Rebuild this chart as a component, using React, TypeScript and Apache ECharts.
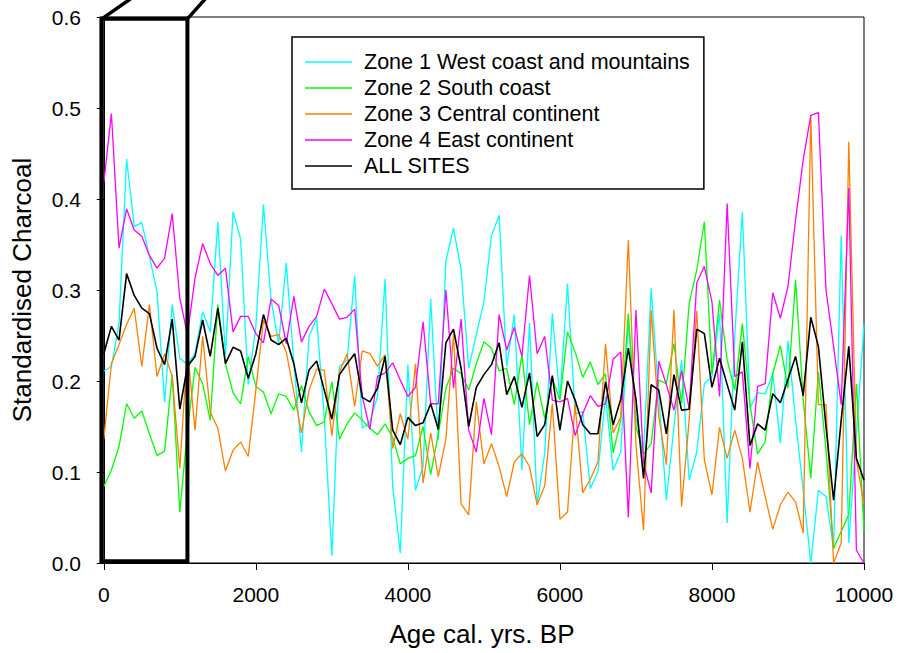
import React, { useEffect, useRef } from "react";
import * as echarts from "echarts";

const AGES = [
  0, 100, 200, 300, 400, 500, 600, 700, 800, 900,
  1000, 1100, 1200, 1300, 1400, 1500, 1600, 1700, 1800, 1900,
  2000, 2100, 2200, 2300, 2400, 2500, 2600, 2700, 2800, 2900,
  3000, 3100, 3200, 3300, 3400, 3500, 3600, 3700, 3800, 3900,
  4000, 4100, 4200, 4300, 4400, 4500, 4600, 4700, 4800, 4900,
  5000, 5100, 5200, 5300, 5400, 5500, 5600, 5700, 5800, 5900,
  6000, 6100, 6200, 6300, 6400, 6500, 6600, 6700, 6800, 6900,
  7000, 7100, 7200, 7300, 7400, 7500, 7600, 7700, 7800, 7900,
  8000, 8100, 8200, 8300, 8400, 8500, 8600, 8700, 8800, 8900,
  9000, 9100, 9200, 9300, 9400, 9500, 9600, 9700, 9800, 9900,
  10000,
];

const ZONE1 = [
  0.211, 0.216, 0.263, 0.444, 0.370, 0.374, 0.337, 0.298, 0.177, 0.284,
  0.225, 0.218, 0.230, 0.276, 0.254, 0.375, 0.227, 0.386, 0.356, 0.196,
  0.260, 0.394, 0.289, 0.241, 0.330, 0.220, 0.122, 0.249, 0.269, 0.160,
  0.008, 0.216, 0.223, 0.316, 0.148, 0.155, 0.183, 0.312, 0.084, 0.011,
  0.218, 0.080, 0.106, 0.290, 0.135, 0.332, 0.368, 0.322, 0.214, 0.251,
  0.287, 0.360, 0.382, 0.216, 0.273, 0.102, 0.264, 0.064, 0.121, 0.274,
  0.181, 0.307, 0.164, 0.166, 0.082, 0.100, 0.183, 0.102, 0.122, 0.265,
  0.160, 0.120, 0.302, 0.183, 0.069, 0.150, 0.223, 0.091, 0.122, 0.197,
  0.205, 0.274, 0.044, 0.250, 0.386, 0.170, 0.187, 0.186, 0.208, 0.132,
  0.244, 0.157, 0.080, 0.000, 0.080, 0.073, 0.016, 0.360, 0.022, 0.142,
  0.262,
];

const ZONE2 = [
  0.084, 0.102, 0.128, 0.175, 0.159, 0.167, 0.142, 0.118, 0.123, 0.207,
  0.056, 0.146, 0.215, 0.197, 0.157, 0.284, 0.219, 0.187, 0.175, 0.227,
  0.194, 0.188, 0.164, 0.186, 0.183, 0.168, 0.195, 0.166, 0.151, 0.155,
  0.199, 0.136, 0.153, 0.165, 0.157, 0.148, 0.141, 0.153, 0.138, 0.109,
  0.115, 0.118, 0.150, 0.097, 0.142, 0.192, 0.214, 0.208, 0.190, 0.219,
  0.243, 0.236, 0.211, 0.214, 0.174, 0.229, 0.152, 0.199, 0.159, 0.203,
  0.179, 0.254, 0.232, 0.204, 0.221, 0.196, 0.208, 0.121, 0.157, 0.274,
  0.150, 0.120, 0.131, 0.201, 0.197, 0.241, 0.175, 0.285, 0.322, 0.375,
  0.208, 0.289, 0.223, 0.190, 0.263, 0.175, 0.120, 0.133, 0.208, 0.239,
  0.192, 0.311, 0.180, 0.093, 0.210, 0.124, 0.016, 0.035, 0.053, 0.197,
  0.035,
];

const ZONE3 = [
  0.136, 0.219, 0.240, 0.262, 0.280, 0.216, 0.284, 0.205, 0.230, 0.205,
  0.104, 0.236, 0.146, 0.249, 0.166, 0.148, 0.101, 0.124, 0.133, 0.117,
  0.190, 0.267, 0.249, 0.251, 0.232, 0.188, 0.143, 0.190, 0.213, 0.212,
  0.140, 0.210, 0.230, 0.172, 0.233, 0.230, 0.216, 0.229, 0.126, 0.164,
  0.136, 0.219, 0.088, 0.143, 0.095, 0.136, 0.252, 0.065, 0.053, 0.177,
  0.109, 0.131, 0.106, 0.073, 0.111, 0.120, 0.106, 0.064, 0.085, 0.175,
  0.048, 0.056, 0.175, 0.077, 0.092, 0.111, 0.241, 0.143, 0.160, 0.355,
  0.130, 0.036, 0.278, 0.161, 0.108, 0.278, 0.062, 0.157, 0.277, 0.113,
  0.075, 0.149, 0.115, 0.146, 0.115, 0.056, 0.111, 0.073, 0.037, 0.064,
  0.078, 0.067, 0.033, 0.492, 0.174, 0.174, 0.000, 0.022, 0.463, 0.113,
  0.064,
];

const ZONE4 = [
  0.418, 0.494, 0.346, 0.389, 0.366, 0.359, 0.338, 0.324, 0.335, 0.384,
  0.291, 0.251, 0.313, 0.351, 0.329, 0.316, 0.324, 0.254, 0.271, 0.271,
  0.252, 0.242, 0.290, 0.283, 0.241, 0.293, 0.243, 0.260, 0.271, 0.301,
  0.285, 0.268, 0.270, 0.279, 0.183, 0.147, 0.205, 0.209, 0.220, 0.201,
  0.183, 0.193, 0.265, 0.175, 0.175, 0.300, 0.192, 0.268, 0.146, 0.122,
  0.181, 0.141, 0.273, 0.234, 0.259, 0.227, 0.316, 0.230, 0.249, 0.179,
  0.177, 0.181, 0.140, 0.164, 0.184, 0.172, 0.175, 0.224, 0.232, 0.050,
  0.278, 0.110, 0.077, 0.222, 0.196, 0.168, 0.211, 0.170, 0.308, 0.326,
  0.287, 0.183, 0.395, 0.205, 0.210, 0.104, 0.194, 0.197, 0.297, 0.269,
  0.304, 0.377, 0.443, 0.492, 0.495, 0.300, 0.238, 0.174, 0.412, 0.014,
  0.000,
];

const ALL_SITES = [
  0.230, 0.260, 0.245, 0.318, 0.294, 0.280, 0.274, 0.236, 0.218, 0.268,
  0.169, 0.216, 0.227, 0.267, 0.227, 0.280, 0.219, 0.237, 0.233, 0.203,
  0.230, 0.273, 0.245, 0.240, 0.247, 0.219, 0.176, 0.212, 0.222, 0.190,
  0.158, 0.207, 0.219, 0.230, 0.182, 0.177, 0.192, 0.227, 0.146, 0.130,
  0.160, 0.151, 0.154, 0.175, 0.147, 0.242, 0.257, 0.214, 0.150, 0.193,
  0.207, 0.218, 0.242, 0.185, 0.205, 0.171, 0.209, 0.139, 0.152, 0.206,
  0.146, 0.200, 0.179, 0.152, 0.142, 0.142, 0.199, 0.152, 0.180, 0.236,
  0.180, 0.093, 0.196, 0.190, 0.142, 0.207, 0.168, 0.169, 0.257, 0.252,
  0.193, 0.225, 0.196, 0.168, 0.243, 0.129, 0.153, 0.146, 0.186, 0.176,
  0.202, 0.227, 0.184, 0.270, 0.238, 0.150, 0.069, 0.157, 0.238, 0.115,
  0.091,
];

const SERIES_NAMES = [
  "Zone 1 West coast and mountains",
  "Zone 2 South coast",
  "Zone 3 Central continent",
  "Zone 4 East continent",
  "ALL SITES",
];
const SERIES_VALUES = [ZONE1, ZONE2, ZONE3, ZONE4, ALL_SITES];
const SERIES_COLORS = ["#00FFFF", "#00FF00", "#FF8000", "#FF00FF", "#000000"];

const X_TICKS = [0, 2000, 4000, 6000, 8000, 10000];
const X_MIN = -50;
const X_MAX = 10000;
const Y_MIN = 0;
const Y_MAX = 0.6;
const Y_STEP = 0.1;

// Highlighted (zoomed) window, in data units
const BOX_AGE = [-26, 1100];
const BOX_VAL = [0.002, 0.598];

const FONT = "'Liberation Sans', Arial, Helvetica, sans-serif";

export default function App() {
  const ref = useRef<HTMLDivElement>(null);

  useEffect(() => {
    document.body.style.margin = "0";
    const chart = echarts.init(ref.current as HTMLDivElement, null, { renderer: "svg" });

    const series = SERIES_NAMES.map((name, k) => ({
      name,
      type: "line",
      data: AGES.map((a, i) => [a, SERIES_VALUES[k][i]]),
      symbol: "none",
      showSymbol: false,
      color: SERIES_COLORS[k],
      lineStyle: { color: SERIES_COLORS[k], width: k === 4 ? 1.6 : 1.3 },
      z: 2 + k,
    }));

    chart.setOption({
      animation: false,
      backgroundColor: "#ffffff",
      grid: {
        left: 100,
        right: 35,
        top: 17,
        bottom: 90,
        containLabel: false,
        outerBoundsMode: "none",
        show: true,
        borderColor: "#000",
        borderWidth: 1,
        backgroundColor: "transparent",
      },
      legend: {
        orient: "vertical",
        left: 292,
        top: 37,
        icon: "rect",
        itemWidth: 47,
        itemHeight: 1.5,
        itemGap: 0,
        padding: [12, 14, 10, 13],
        borderColor: "#000",
        borderWidth: 1.5,
        backgroundColor: "#ffffff",
        selectedMode: false,
        textStyle: {
          fontSize: 21.5,
          fontFamily: FONT,
          color: "#000",
          lineHeight: 26,
          padding: [0, 0, 0, 7],
        },
        data: SERIES_NAMES,
      },
      xAxis: {
        type: "value",
        min: X_MIN,
        max: X_MAX,
        name: "Age cal. yrs. BP",
        nameLocation: "middle",
        nameGap: 58,
        nameTextStyle: { fontSize: 26, fontFamily: FONT, color: "#000" },
        axisLine: { show: true, lineStyle: { color: "#000", width: 1 } },
        axisTick: {
          show: true,
          inside: false,
          length: 7,
          customValues: X_TICKS,
          lineStyle: { color: "#000", width: 1 },
        },
        axisLabel: {
          customValues: X_TICKS,
          fontSize: 21,
          fontFamily: FONT,
          color: "#000",
          margin: 21,
          formatter: (v: number) => String(v),
        },
        splitLine: { show: false },
      },
      yAxis: {
        type: "value",
        min: Y_MIN,
        max: Y_MAX,
        interval: Y_STEP,
        name: "Standardised Charcoal",
        nameLocation: "middle",
        nameGap: 65,
        nameTextStyle: { fontSize: 26, fontFamily: FONT, color: "#000" },
        axisLine: { show: true, lineStyle: { color: "#000", width: 1 } },
        axisTick: { show: true, inside: false, length: 7, lineStyle: { color: "#000", width: 1 } },
        axisLabel: {
          fontSize: 21,
          fontFamily: FONT,
          color: "#000",
          margin: 19,
          formatter: (v: number) => v.toFixed(1),
        },
        splitLine: { show: false },
      },
      series,
    });

    const tl = chart.convertToPixel({ gridIndex: 0 }, [BOX_AGE[0], BOX_VAL[1]]) as number[];
    const br = chart.convertToPixel({ gridIndex: 0 }, [BOX_AGE[1], BOX_VAL[0]]) as number[];
    chart.setOption({
      graphic: [
        {
          type: "rect",
          z: 100,
          shape: { x: tl[0], y: tl[1], width: br[0] - tl[0], height: br[1] - tl[1] },
          style: { fill: "none", stroke: "#000", lineWidth: 4 },
        },
        {
          type: "line",
          z: 100,
          shape: { x1: tl[0], y1: tl[1], x2: tl[0] + 36, y2: tl[1] - 25 },
          style: { stroke: "#000", lineWidth: 3.5 },
        },
        {
          type: "line",
          z: 100,
          shape: { x1: br[0], y1: tl[1], x2: br[0] + 21, y2: tl[1] - 23.5 },
          style: { stroke: "#000", lineWidth: 3.5 },
        },
      ],
    });

    return () => chart.dispose();
  }, []);

  return <div ref={ref} style={{ width: 899, height: 653 }} />;
}
